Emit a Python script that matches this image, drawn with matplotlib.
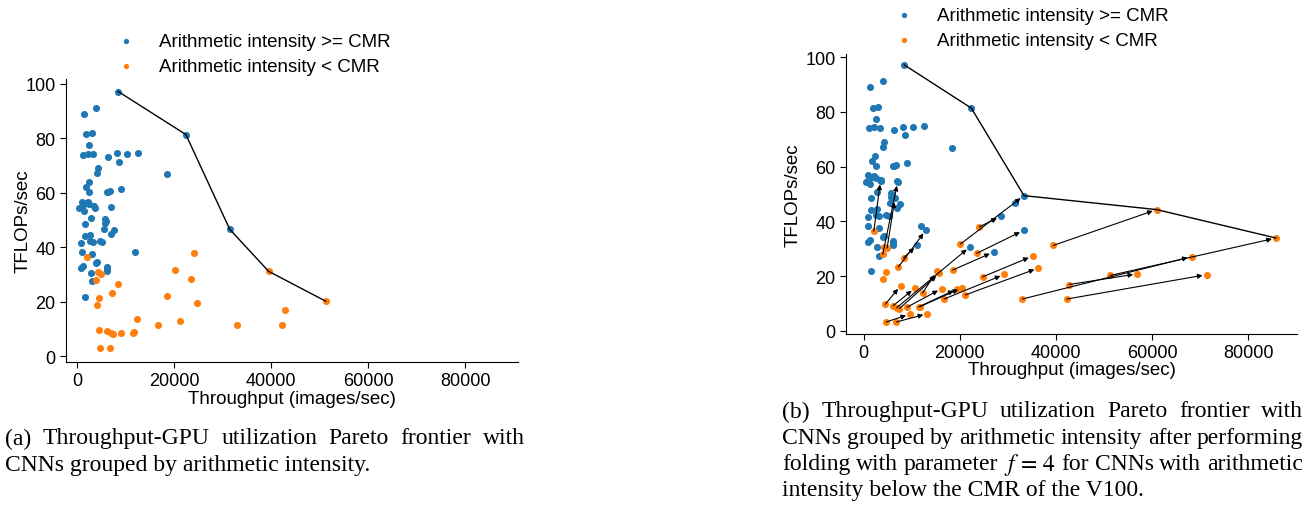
import matplotlib
matplotlib.use("Agg")
import matplotlib.pyplot as plt
import numpy as np

# ---------------- data ----------------
# CNNs with arithmetic intensity >= CMR (throughput, TFLOPs/sec)
blue_x = [8487, 1380, 4000, 1930, 3036, 2550, 1240, 2200, 3380, 6400, 8140, 10200,
          12560, 8700, 4280, 4070, 18500, 2480, 1800, 2550, 9040, 6070, 6400, 6760,
          480, 1035, 1860, 2550, 1380, 3450, 3660, 1170, 2280, 6900, 2830, 5660,
          6000, 5660, 1590, 5520, 7660, 7040, 1660, 2760, 2620, 3310, 4690, 5240,
          900, 970, 12000, 3170, 4000, 4210, 1310, 900, 6070, 6140, 6070, 2830,
          3170, 1590, 22425, 31470]
blue_y = [97.2, 89.0, 91.3, 81.6, 82.0, 77.5, 74.0, 74.4, 74.3, 73.3, 74.5, 74.4,
          74.7, 71.5, 69.0, 67.2, 67.0, 64.0, 62.0, 60.3, 61.3, 60.2, 60.3, 60.5,
          54.5, 56.8, 56.3, 56.0, 53.5, 55.3, 54.6, 55.6, 56.5, 54.8, 50.7, 50.3,
          49.5, 48.8, 48.6, 46.6, 46.3, 44.8, 44.2, 44.6, 42.4, 42.1, 42.5, 42.1,
          41.6, 38.4, 38.2, 37.5, 34.1, 34.5, 33.3, 32.3, 32.8, 32.0, 31.3, 30.6,
          27.5, 21.8, 81.4, 46.6]

# CNNs with arithmetic intensity < CMR
orange_x = [2140, 4350, 4900, 4000, 8350, 7250, 4620, 4070, 12280, 4550, 6210, 6900,
            7450, 9040, 11450, 11730, 4760, 6830, 24080, 20150, 23530, 18560, 24770,
            42780, 16770, 21180, 33050, 42300, 39470, 51270]
orange_y = [36.4, 30.8, 30.2, 27.9, 26.7, 23.3, 21.5, 19.0, 13.8, 9.7, 9.2, 8.4,
            8.1, 8.6, 8.7, 8.8, 3.2, 3.2, 38.0, 31.7, 28.3, 22.2, 19.7,
            16.9, 11.6, 13.1, 11.6, 11.6, 31.2, 20.2]

# folding (f = 4): index into orange list -> new position and new group
fold_src = [0, 3, 2, 4, 5, 18, 19, 20, 21, 22, 24, 25, 23, 26, 27, 28, 29,
            9, 16, 17, 8, 11, 12, 13, 14, 15, 10]
fold_x = [3550, 7110, 6550, 11180, 12970, 28520, 33370, 33300, 27070, 35170, 29270,
          36340, 56920, 68240, 71350, 60950, 85760, 7730, 9670, 13270, 15220, 22140,
          15760, 16250, 19500, 20480, 10700]
fold_y = [55.0, 54.5, 48.5, 31.3, 36.8, 41.8, 49.4, 36.7, 28.8, 27.3, 20.6,
          22.9, 20.8, 27.1, 20.5, 44.3, 33.9, 16.5, 6.1, 6.2, 21.7, 30.7,
          21.0, 15.4, 15.3, 15.7, 15.6]
fold_high = [1, 1, 1, 1, 1, 1, 1, 1, 1, 0, 0,
             0, 0, 0, 0, 0, 0, 0, 0, 0, 0, 1,
             0, 0, 0, 0, 0]

x_ticks = [0, 20000, 40000, 60000, 80000]
y_ticks = [0, 20, 40, 60, 80, 100]
labels = ["Arithmetic intensity >= CMR", "Arithmetic intensity < CMR"]
xlabel = "Throughput (images/sec)"
ylabel = "TFLOPs/sec"
caption_a = ["(a) Throughput-GPU utilization Pareto frontier with",
             "CNNs grouped by arithmetic intensity."]
caption_b = ["(b) Throughput-GPU utilization Pareto frontier with",
             "CNNs grouped by arithmetic intensity after performing",
             "folding with parameter $f\\,=\\,4$ for CNNs with arithmetic",
             "intensity below the CMR of the V100."]

# ---------------- style ----------------
W, H = 1316, 506
BLUE = "#1f77b4"
ORANGE = "#ff7f0e"
plt.rcParams["font.family"] = ["Liberation Sans", "DejaVu Sans"]
plt.rcParams["mathtext.fontset"] = "stix"

fig = plt.figure(figsize=(W / 100, H / 100), dpi=100)
ax1 = fig.add_axes([66 / W, (H - 363) / H, 452 / W, 283 / H])
ax2 = fig.add_axes([846 / W, (H - 335) / H, 451 / W, 280 / H])

MS = 26


def pareto(xs, ys):
    xs = np.asarray(xs, float)
    ys = np.asarray(ys, float)
    order = np.argsort(-xs)
    fx, fy, best = [], [], -np.inf
    for i in order:
        if ys[i] > best:
            fx.append(xs[i])
            fy.append(ys[i])
            best = ys[i]
    return fx[::-1], fy[::-1]


def style(ax, xlim, ylim, ylab_x, xlab_y):
    for s in ("top", "right"):
        ax.spines[s].set_visible(False)
    ax.set_xlim(*xlim)
    ax.set_ylim(*ylim)
    ax.set_xticks(x_ticks)
    ax.set_yticks(y_ticks)
    ax.tick_params(labelsize=13, length=4)
    ax.set_xlabel(xlabel, fontsize=13.5)
    ax.set_ylabel(ylabel, fontsize=13.5)
    ax.yaxis.set_label_coords(ylab_x, 0.5)
    ax.xaxis.set_label_coords(0.5, xlab_y)


# ---- left panel ----
h1 = ax1.scatter(blue_x, blue_y, s=MS, color=BLUE, linewidths=0, label=labels[0], zorder=2)
h2 = ax1.scatter(orange_x, orange_y, s=MS, color=ORANGE, linewidths=0, label=labels[1], zorder=2)
fx, fy = pareto(blue_x + orange_x, blue_y + orange_y)
ax1.plot(fx, fy, color="black", lw=1.0, zorder=3)
style(ax1, (-2280, 90870), (-2.1, 101.8), -0.076, -0.098)

# ---- right panel ----
nb_x = [x for x, h in zip(fold_x, fold_high) if h]
nb_y = [y for y, h in zip(fold_y, fold_high) if h]
no_x = [x for x, h in zip(fold_x, fold_high) if not h]
no_y = [y for y, h in zip(fold_y, fold_high) if not h]
ax2.scatter(blue_x + nb_x, blue_y + nb_y, s=MS, color=BLUE, linewidths=0, zorder=2)
ax2.scatter(orange_x + no_x, orange_y + no_y, s=MS, color=ORANGE, linewidths=0, zorder=2)
for i, tx, ty in zip(fold_src, fold_x, fold_y):
    ax2.annotate("", xy=(tx, ty), xytext=(orange_x[i], orange_y[i]),
                 arrowprops=dict(arrowstyle="-|>", color="black", lw=0.8,
                                 mutation_scale=7, shrinkA=0, shrinkB=3),
                 zorder=3)
fx2, fy2 = pareto(blue_x + fold_x, blue_y + fold_y)
ax2.plot(fx2, fy2, color="black", lw=1.0, zorder=3)
style(ax2, (-3640, 90130), (-1.2, 101.2), -0.098, -0.097)

# ---- legends ----
for (lx, ly) in ((100, 26), (878, 0)):
    fig.legend(handles=[h1, h2], labels=labels, loc="upper left",
               bbox_to_anchor=(lx / W, 1 - ly / H), bbox_transform=fig.transFigure,
               frameon=False, fontsize=13.5, markerscale=0.75, borderaxespad=0,
               handletextpad=0.75, labelspacing=0.45)

# ---- captions ----
cap_font = dict(family=["Liberation Serif", "DejaVu Serif"], fontsize=17.0)
renderer = fig.canvas.get_renderer()


def caption(lines, x0, x1, y0, dy):
    for k, line in enumerate(lines):
        yc = 1 - (y0 + dy * k) / H
        if k == len(lines) - 1:
            fig.text(x0 / W, yc, line, va="center", ha="left", **cap_font)
            continue
        words = line.split(" ")
        texts = [fig.text(0, yc, w, va="center", ha="left", **cap_font) for w in words]
        widths = [t.get_window_extent(renderer).width for t in texts]
        gap = (x1 - x0 - sum(widths)) / (len(words) - 1)
        pos = x0
        for t, w in zip(texts, widths):
            t.set_x(pos / W)
            pos += w + gap


caption(caption_a, 5, 525, 439, 26.5)
caption(caption_b, 782, 1303, 412, 26.3)

fig.savefig("out.png", dpi=100)
